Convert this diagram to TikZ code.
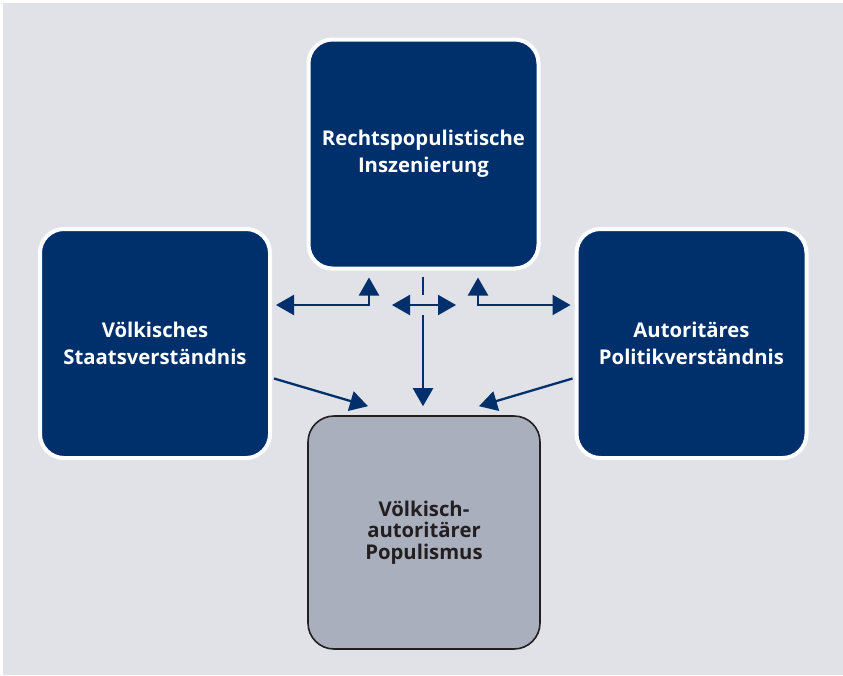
\documentclass[tikz,border=0pt]{standalone}
\usepackage{fontspec}
\setmainfont{Open Sans}
\usetikzlibrary{arrows.meta,calc}
\definecolor{navy}{HTML}{00306C}
\definecolor{bg}{HTML}{E1E2E7}
\definecolor{greybox}{HTML}{A9AFBD}
\definecolor{dark}{HTML}{231F20}
\tikzset{
  bluebox/.style={draw=white, line width=4pt, fill=navy, rounded corners=24pt,
    minimum width=230pt, minimum height=229pt, inner sep=0pt, text=white,
    font=\fontsize{20.3}{27}\selectfont\bfseries, align=center},
  finalbox/.style={draw=dark, line width=1.6pt, fill=greybox, rounded corners=26pt,
    minimum width=232pt, minimum height=233pt, inner sep=0pt, text=dark,
    font=\fontsize{20.3}{21.5}\selectfont\bfseries, align=center},
  conn/.style={draw=navy, line width=2.3pt},
  arr/.style={conn, -{Triangle[length=18pt,width=20pt]}},
  dbl/.style={conn, {Triangle[length=18pt,width=20pt]}-{Triangle[length=18pt,width=20pt]}}
}
\begin{document}
\begin{tikzpicture}[x=1pt,y=-1pt]
\fill[white] (0,0) rectangle (843,675);
\fill[bg] (3,3) rectangle (843,675);
\useasboundingbox (0,0) rectangle (843,675);
\node[bluebox] (T) at (423.5,154) {Rechtspopulistische\\Inszenierung};
\node[bluebox] (L) at (155,343.5) {Völkisches\\Staatsverständnis};
\node[bluebox] (R) at (691.5,343.5) {Autoritäres\\Politikverständnis};
\node[finalbox] (B) at (424,532.5) {Völkisch-\\autoritärer\\Populismus};
\coordinate (cl) at (369,305);
\coordinate (cr) at (478,305);
\coordinate (cm) at (423,305);
\draw[dbl] ([xshift=4pt]L.east |- cl) -- (cl) -- ([yshift=-7pt]T.south -| cl);
\draw[dbl] ([yshift=-7pt]T.south -| cr) -- (cr) -- ([xshift=-4pt]R.west |- cr);
\draw[conn] ([yshift=-6pt]T.south -| cm) -- ([yshift=10pt]cm);
\draw[dbl] ([xshift=-31pt]cm) -- ([xshift=33pt]cm);
\draw[arr] ([yshift=-10pt]cm) -- ([yshift=9pt]B.north -| cm);
\draw[arr] ([xshift=2pt,yshift=-35pt]L.east) -- ([xshift=-56pt,yshift=9pt]B.north);
\draw[arr] ([xshift=-2pt,yshift=-35pt]R.west) -- ([xshift=55pt,yshift=9pt]B.north);
\end{tikzpicture}
\end{document}
